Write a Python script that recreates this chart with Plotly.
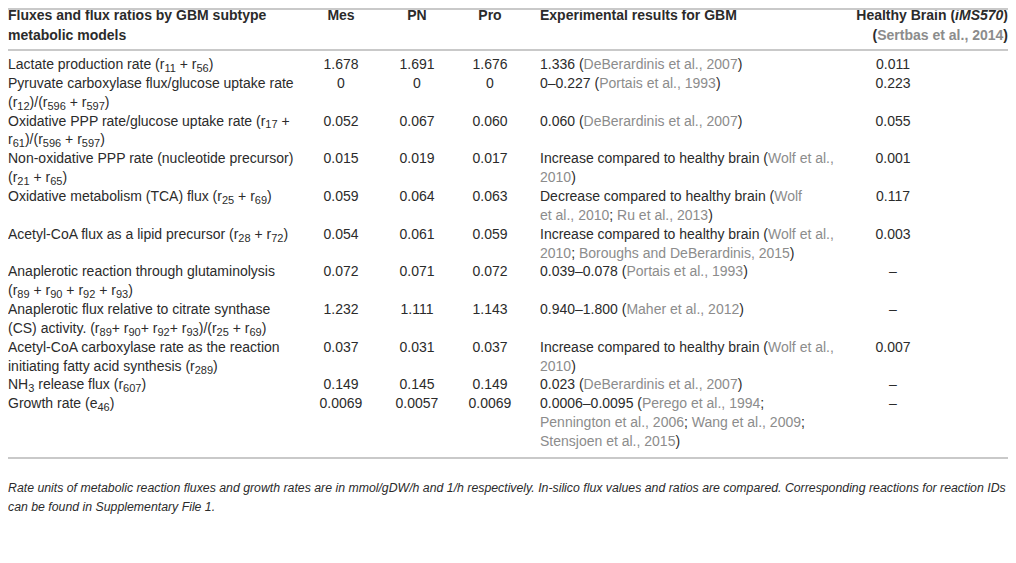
import plotly.graph_objects as go

W, H = 1016, 563
PAGE = 8  # default body margin of the html page
INK = "#2b2b2b"
CITE = "#8c8c8c"
RULE = "#c9c9c9"
FONT = "Liberation Sans"

HEADERS = [
    "<b>Fluxes and flux ratios by GBM subtype<br>metabolic models</b>",
    "<b>Mes</b>",
    "<b>PN</b>",
    "<b>Pro</b>",
    "<b>Experimental results for GBM</b>",
    "<b>Healthy Brain (<i>iMS570</i>)<br>({Sertbas et al., 2014})</b>",
]

QUANTITY = [
    "Lactate production rate (r<sub>11</sub> + r<sub>56</sub>)",
    "Pyruvate carboxylase flux/glucose uptake rate<br>(r<sub>12</sub>)/(r<sub>596</sub> + r<sub>597</sub>)",
    "Oxidative PPP rate/glucose uptake rate (r<sub>17</sub> +<br>r<sub>61</sub>)/(r<sub>596</sub> + r<sub>597</sub>)",
    "Non-oxidative PPP rate (nucleotide precursor)<br>(r<sub>21</sub> + r<sub>65</sub>)",
    "Oxidative metabolism (TCA) flux (r<sub>25</sub> + r<sub>69</sub>)",
    "Acetyl-CoA flux as a lipid precursor (r<sub>28</sub> + r<sub>72</sub>)",
    "Anaplerotic reaction through glutaminolysis<br>(r<sub>89</sub> + r<sub>90</sub> + r<sub>92</sub> + r<sub>93</sub>)",
    "Anaplerotic flux relative to citrate synthase<br>(CS) activity. (r<sub>89</sub>+ r<sub>90</sub>+ r<sub>92</sub>+ r<sub>93</sub>)/(r<sub>25</sub> + r<sub>69</sub>)",
    "Acetyl-CoA carboxylase rate as the reaction<br>initiating fatty acid synthesis (r<sub>289</sub>)",
    "NH<sub>3</sub> release flux (r<sub>607</sub>)",
    "Growth rate (e<sub>46</sub>)",
]
MES = ["1.678", "0", "0.052", "0.015", "0.059", "0.054", "0.072", "1.232", "0.037", "0.149", "0.0069"]
PN = ["1.691", "0", "0.067", "0.019", "0.064", "0.061", "0.071", "1.111", "0.031", "0.145", "0.0057"]
PRO = ["1.676", "0", "0.060", "0.017", "0.063", "0.059", "0.072", "1.143", "0.037", "0.149", "0.0069"]
EXPERIMENTAL = [
    "1.336 ({DeBerardinis et al., 2007})",
    "0–0.227 ({Portais et al., 1993})",
    "0.060 ({DeBerardinis et al., 2007})",
    "Increase compared to healthy brain ({Wolf et al.,}<br>{2010})",
    "Decrease compared to healthy brain ({Wolf}<br>{et al., 2010}; {Ru et al., 2013})",
    "Increase compared to healthy brain ({Wolf et al.,}<br>{2010}; {Boroughs and DeBerardinis, 2015})",
    "0.039–0.078 ({Portais et al., 1993})",
    "0.940–1.800 ({Maher et al., 2012})",
    "Increase compared to healthy brain ({Wolf et al.,}<br>{2010})",
    "0.023 ({DeBerardinis et al., 2007})",
    "0.0006–0.0095 ({Perego et al., 1994};<br>{Pennington et al., 2006}; {Wang et al., 2009};<br>{Stensjoen et al., 2015})",
]
HEALTHY = ["0.011", "0.223", "0.055", "0.001", "0.117", "0.003", "–", "–", "0.007", "–", "–"]
FOOTNOTE = ("<i>Rate units of metabolic reaction fluxes and growth rates are in mmol/gDW/h and 1/h respectively. "
            "In-silico flux values and ratios are compared. Corresponding reactions for reaction IDs<br>"
            "can be found in Supplementary File 1.</i>")

# column anchors (window pixels): x position and how text sits against it
COL_X = [8, 341, 417, 490, 540, 1008]
BODY_POS = ["middle right", "middle center", "middle center", "middle center", "middle right", "middle center"]
HEAD_POS = ["middle right", "middle center", "middle center", "middle center", "middle right", "middle left"]
HEALTHY_X = 893

TOP_RULE = 9
HEAD_Y = 16.5
HEAD_LINE = 19.5
FIRST_Y = 65.5
LINE = 18.85


def markup(s):
    s = s.replace("{", f"<span style='color:{CITE}'>").replace("}", "</span>")
    return s.replace("<sub>", "<sub><span style='font-size:11px'>").replace("</sub>", "</span></sub>")


def main():
    fig = go.Figure()
    font = dict(family=FONT, size=14, color=INK)

    # header
    for k, cell in enumerate(HEADERS):
        lines = markup(cell).split("<br>")
        if len(lines) > 1:
            lines = [lines[0] + "</b>"] + ["<b>" + ln for ln in lines[1:]]
        fig.add_trace(go.Scatter(
            x=[COL_X[k]] * len(lines),
            y=[HEAD_Y + j * HEAD_LINE for j in range(len(lines))],
            text=lines, mode="text", textposition=HEAD_POS[k],
            textfont=font, hoverinfo="skip"))

    # body
    columns = [QUANTITY, MES, PN, PRO, EXPERIMENTAL, HEALTHY]
    xs = COL_X[:5] + [HEALTHY_X]
    offset = 0
    for i in range(len(QUANTITY)):
        cells = [markup(col[i]).split("<br>") for col in columns]
        for k, lines in enumerate(cells):
            fig.add_trace(go.Scatter(
                x=[xs[k]] * len(lines),
                y=[FIRST_Y + (offset + j) * LINE for j in range(len(lines))],
                text=lines, mode="text", textposition=BODY_POS[k],
                textfont=font, hoverinfo="skip"))
        offset += max(len(c) for c in cells)

    bottom = FIRST_Y + (offset - 1) * LINE + 15.5
    head_rule = 50

    foot = FOOTNOTE.split("<br>")
    foot = [foot[0] + "</i>", "<i>" + foot[1]]
    fig.add_trace(go.Scatter(
        x=[COL_X[0]] * 2, y=[bottom + 31, bottom + 50],
        text=foot, mode="text", textposition="middle right",
        textfont=dict(family=FONT, size=12.3, color=INK), hoverinfo="skip"))

    # the three horizontal rules of the table
    rx, ry = [], []
    for y in [TOP_RULE, head_rule, bottom]:
        rx += [PAGE, W, None]
        ry += [y, y, None]
    fig.add_trace(go.Scatter(x=rx, y=ry, mode="lines", hoverinfo="skip",
                             line=dict(color=RULE, width=2)))

    # the page puts the figure 8px in, so the axes start at the window's 8px
    fig.update_xaxes(range=[PAGE, W], visible=False, fixedrange=True)
    fig.update_yaxes(range=[H, PAGE], visible=False, fixedrange=True)
    fig.update_layout(width=W - PAGE, height=H - PAGE, margin=dict(l=0, r=0, t=0, b=0),
                      plot_bgcolor="white", paper_bgcolor="white",
                      showlegend=False, hovermode=False)
    fig.write_html("out.html", config={"displayModeBar": False})


if __name__ == "__main__":
    main()
